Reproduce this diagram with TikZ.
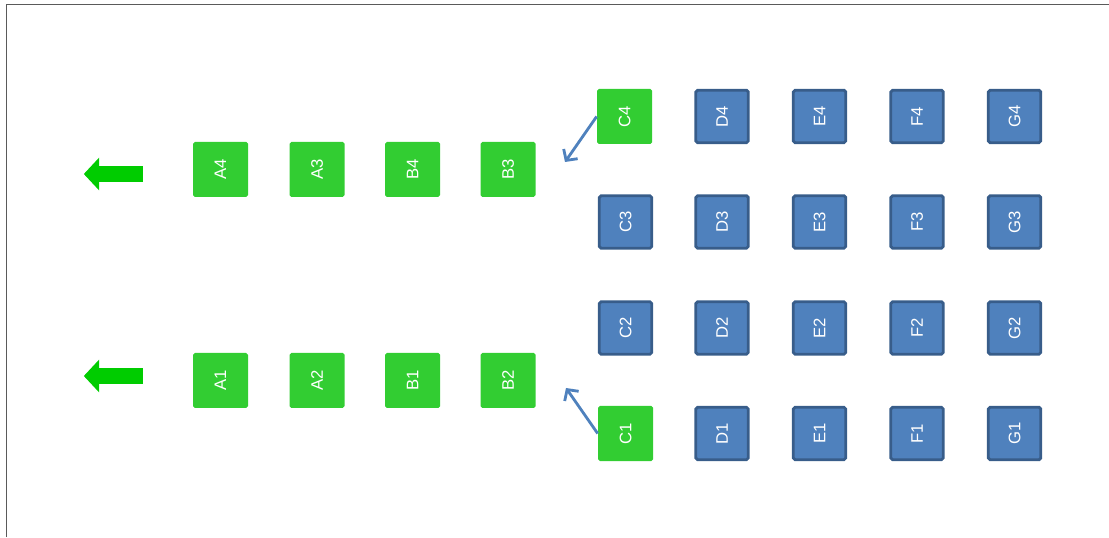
\documentclass[tikz,border=0pt]{standalone}
\usepackage{fontspec}
\setmainfont{Liberation Sans}
\usepackage{tikz}
\usetikzlibrary{arrows.meta,positioning,shapes.arrows}
\definecolor{SlotGreen}{RGB}{50,205,50}
\definecolor{ExitGreen}{RGB}{0,204,0}
\definecolor{SlotBlue}{RGB}{79,129,189}
\definecolor{SlotBlueDark}{RGB}{56,93,138}
\definecolor{FrameGray}{RGB}{90,90,90}

\begin{document}
\begin{tikzpicture}[
    font=\fontsize{9.5}{11}\selectfont,
    slot/.style={minimum size=1.1cm, inner sep=0pt, rounded corners=1pt,
                 text=white, rotate=90},
    gbox/.style={slot, fill=SlotGreen},
    bbox/.style={slot, fill=SlotBlue, draw=SlotBlueDark, line width=1.6pt, minimum size=1.05cm},
    exit/.style={single arrow, shape border rotate=180, fill=ExitGreen,
                 inner xsep=0pt, inner ysep=0.15cm,
                 minimum height=1.18cm,
                 single arrow head extend=0.17cm, single arrow tip angle=94},
    >={Straight Barb[length=1.6mm,width=3.4mm]}
  ]
  \useasboundingbox (0,0) rectangle (22.18,10.74);

  % Rahmen
  \draw[FrameGray, line width=0.8pt] (0.13,0) -- (0.13,10.65) -- (22.18,10.65);

  % Ausfahrt
  \node[exit] (out4) at (2.34,7.26) {};
  \node[exit] (out1) at (2.34,3.22) {};

  % obere Reihe
  \node[gbox] (A4) at (4.41,7.35) {A4};
  \node[gbox] (A3) at (6.34,7.35) {A3};
  \node[gbox] (B4) at (8.25,7.35) {B4};
  \node[gbox] (B3) at (10.16,7.35) {B3};

  % untere Reihe
  \node[gbox] (A1) at (4.41,3.13) {A1};
  \node[gbox] (A2) at (6.34,3.13) {A2};
  \node[gbox] (B1) at (8.25,3.13) {B1};
  \node[gbox] (B2) at (10.16,3.13) {B2};

  % Spalte C
  \node[gbox] (C4) at (12.49,8.41) {C4};
  \node[bbox] (C3) at (12.51,6.30) {C3};
  \node[bbox] (C2) at (12.51,4.18) {C2};
  \node[gbox] (C1) at (12.51,2.07) {C1};

  % Spalten D bis G
  \foreach \col/\x in {D/14.44,E/16.39,F/18.34,G/20.29}{
    \foreach \row/\y in {4/8.41,3/6.30,2/4.18,1/2.07}{
      \node[bbox] (\col\row) at (\x,\y) {\col\row};
    }
  }

  % Nachruecken
  \coordinate (in4) at (11.30,7.50);
  \coordinate (in1) at (11.32,2.98);
  \draw[->,SlotBlue,line width=1.6pt] (C4.north) -- (in4);
  \draw[->,SlotBlue,line width=1.6pt] (C1.north) -- (in1);

\end{tikzpicture}
\end{document}
